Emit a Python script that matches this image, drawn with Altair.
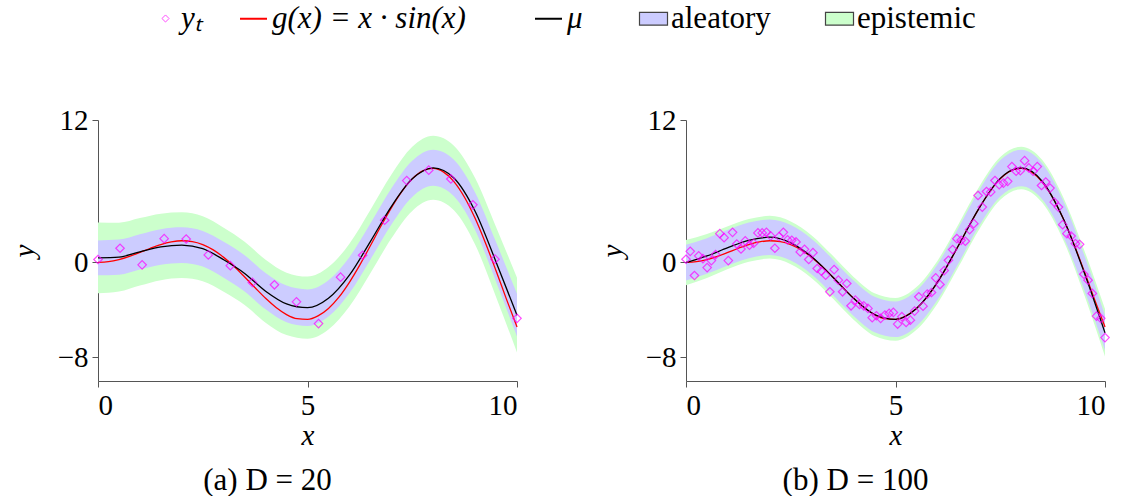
import altair as alt
import pandas as pd

# ---------------- data ----------------
# (a) D = 20 observations
x_pts_a = [0.0, 0.526, 1.053, 1.579, 2.105, 2.632, 3.158, 3.684, 4.211, 4.737,
           5.263, 5.789, 6.316, 6.842, 7.368, 7.895, 8.421, 8.947, 9.474, 10.0]
y_pts_a = [0.24, 1.19, -0.21, 2.0, 1.97, 0.63, -0.28, -1.69, -1.89, -3.33,
           -5.16, -1.25, 0.60, 3.55, 6.89, 7.77, 7.03, 4.85, 0.27, -4.72]

# (b) D = 100 observations
x_pts_b = [0.0, 0.101, 0.202, 0.303, 0.404, 0.505, 0.606, 0.707, 0.808, 0.909,
           1.010, 1.111, 1.212, 1.313, 1.414, 1.515, 1.616, 1.717, 1.818, 1.919,
           2.020, 2.121, 2.222, 2.323, 2.424, 2.525, 2.626, 2.727, 2.828, 2.929,
           3.030, 3.131, 3.232, 3.333, 3.434, 3.535, 3.636, 3.737, 3.838, 3.939,
           4.040, 4.141, 4.242, 4.343, 4.444, 4.545, 4.646, 4.747, 4.848, 4.949,
           5.051, 5.152, 5.253, 5.354, 5.455, 5.556, 5.657, 5.758, 5.859, 5.960,
           6.061, 6.162, 6.263, 6.364, 6.465, 6.566, 6.667, 6.768, 6.869, 6.970,
           7.071, 7.172, 7.273, 7.374, 7.475, 7.576, 7.677, 7.778, 7.879, 7.980,
           8.081, 8.182, 8.283, 8.384, 8.485, 8.586, 8.687, 8.788, 8.889, 8.990,
           9.091, 9.192, 9.293, 9.394, 9.495, 9.596, 9.697, 9.798, 9.899, 10.0]
y_pts_b = [0.26, 0.93, -1.11, 0.55, 0.32, -0.44, 0.15, 0.66, 2.42, 2.08,
           0.15, 2.53, 1.55, 1.13, 1.81, 1.44, 1.61, 2.48, 2.48, 2.53,
           2.23, 1.19, 2.17, 2.53, 1.90, 1.86, 1.72, 0.88, 1.10, 0.24,
           0.82, -0.52, -0.75, -1.08, -2.48, -0.61, -1.50, -2.48, -1.78, -3.66,
           -3.18, -3.55, -3.66, -3.88, -4.66, -4.50, -4.72, -4.44, -4.30, -4.22,
           -5.20, -4.58, -5.06, -4.87, -4.11, -2.90, -3.69, -2.68, -2.54, -1.31,
           -1.87, -0.69, 0.18, 1.08, 2.00, 1.86, 1.78, 2.76, 3.26, 5.64,
           4.66, 5.97, 5.94, 6.90, 6.54, 6.68, 6.83, 8.07, 7.68, 7.73,
           8.57, 7.96, 7.68, 8.07, 6.48, 6.77, 6.26, 5.08, 4.66, 3.18,
           2.42, 2.22, 1.58, 1.52, -1.00, -1.50, -2.62, -4.53, -4.72, -6.34]

# true function g(x) = x sin(x)
x_true = [0.0, 0.25, 0.5, 0.75, 1.0, 1.25, 1.5, 1.75, 2.0, 2.25, 2.5, 2.75, 3.0, 3.25,
          3.5, 3.75, 4.0, 4.25, 4.5, 4.75, 5.0, 5.25, 5.5, 5.75, 6.0, 6.25, 6.5,
          6.75, 7.0, 7.25, 7.5, 7.75, 8.0, 8.25, 8.5, 8.75, 9.0, 9.25, 9.5, 9.75, 10.0]
g_true = [0.0, 0.06, 0.24, 0.51, 0.84, 1.19, 1.50, 1.72, 1.82, 1.75, 1.50, 1.05, 0.42,
          -0.35, -1.23, -2.14, -3.03, -3.80, -4.40, -4.75, -4.80, -4.51, -3.88, -2.93,
          -1.68, -0.21, 1.40, 3.04, 4.60, 5.97, 7.04, 7.71, 7.92, 7.61, 6.79, 5.47,
          3.71, 1.61, -0.71, -3.12, -5.44]

# predictive mean and band half-widths on a common grid
x_grid = [0.0, 0.5, 1.0, 1.5, 2.0, 2.5, 3.0, 3.5, 4.0, 4.5, 5.0,
          5.5, 6.0, 6.5, 7.0, 7.5, 8.0, 8.5, 9.0, 9.5, 10.0]
mu_a = [0.38, 0.44, 0.89, 1.30, 1.45, 1.15, 0.22, -0.93, -2.43, -3.50, -3.82,
        -3.03, -1.08, 1.75, 4.70, 7.04, 7.97, 7.09, 4.31, 0.04, -4.45]
alea_a = [1.47, 1.48, 1.49, 1.50, 1.50, 1.50, 1.51, 1.52, 1.53, 1.54, 1.54,
          1.53, 1.52, 1.52, 1.52, 1.52, 1.52, 1.54, 1.58, 1.67, 1.80]
total_a = [2.98, 2.90, 2.84, 2.80, 2.77, 2.74, 2.70, 2.67, 2.65, 2.63, 2.62,
           2.63, 2.65, 2.67, 2.69, 2.70, 2.70, 2.72, 2.80, 2.95, 3.15]

mu_b = [-0.02, 0.54, 1.24, 1.85, 2.12, 1.65, 0.47, -1.23, -3.03, -4.40, -4.80,
        -3.88, -1.68, 1.40, 4.60, 7.08, 7.96, 6.84, 3.71, -0.81, -5.94]
alea_b = [1.50, 1.50, 1.50, 1.50, 1.50, 1.50, 1.50, 1.50, 1.50, 1.50, 1.50,
          1.50, 1.50, 1.50, 1.50, 1.52, 1.54, 1.52, 1.50, 1.48, 1.46]
total_b = [1.90, 1.85, 1.80, 1.80, 1.80, 1.80, 1.80, 1.80, 1.80, 1.80, 1.80,
           1.80, 1.80, 1.80, 1.80, 1.80, 1.79, 1.80, 1.80, 1.88, 2.00]

x_ticks = [0, 5, 10]
y_ticks = [-8, 0, 12]

series_names = ["g(x) = x · sin(x)", "μ"]
series_colors = ["#ff0000", "#000000"]
band_names = ["aleatory", "epistemic"]
band_colors = ["#ccccff", "#ccffcc"]
obs_name = ["yₜ"]
obs_color = ["#ff00ff"]

FONT = "Liberation Serif"
FS = 29
LFS = 31
W, H = 419, 261
LEG_Y = -117


def panel(xp, yp, mu, alea, tot, caption):
    band_df = pd.DataFrame({
        "x": x_grid,
        "lo_e": [m - t for m, t in zip(mu, tot)],
        "hi_e": [m + t for m, t in zip(mu, tot)],
        "lo_a": [m - a for m, a in zip(mu, alea)],
        "hi_a": [m + a for m, a in zip(mu, alea)],
        "band_e": "epistemic",
        "band_a": "aleatory",
    })
    true_df = pd.DataFrame({"x": x_true, "y": g_true, "s": series_names[0]})
    mu_df = pd.DataFrame({"x": x_grid, "y": mu, "s": series_names[1]})
    pts_df = pd.DataFrame({"x": xp, "y": yp, "o": obs_name[0]})

    xenc = alt.X("x:Q", scale=alt.Scale(domain=[0, 10], nice=False),
                 axis=alt.Axis(values=x_ticks, title="x"))
    yscale = alt.Scale(domain=[-10, 12], nice=False, zero=False)
    yaxis = alt.Axis(values=y_ticks, title="y",
                     labelExpr="replace(datum.label, '-', '−')")

    fill_scale = alt.Scale(domain=band_names, range=band_colors)
    fill_legend = alt.Legend(orient="none", legendX=540, legendY=LEG_Y,
                             direction="horizontal", title=None,
                             symbolType="M-1,-0.46H1V0.46H-1Z", symbolSize=784,
                             symbolStrokeColor="#444444", symbolStrokeWidth=1.2,
                             labelFont=FONT, labelFontSize=LFS, labelOffset=2,
                             labelLimit=0, columnPadding=52, symbolOpacity=1)
    stroke_scale = alt.Scale(domain=series_names, range=series_colors)
    stroke_legend = alt.Legend(orient="none", legendX=140, legendY=LEG_Y,
                               direction="horizontal", title=None,
                               symbolType="stroke", symbolSize=729,
                               symbolStrokeWidth=2,
                               labelFont=FONT, labelFontSize=LFS,
                               labelFontStyle="italic", labelOffset=3,
                               labelLimit=0, columnPadding=65)
    color_scale = alt.Scale(domain=obs_name, range=obs_color)
    color_legend = alt.Legend(orient="none", legendX=52, legendY=LEG_Y,
                              title=None, symbolType="diamond", symbolSize=50,
                              symbolStrokeWidth=1, labelLimit=0,
                              labelFont=FONT, labelFontSize=LFS,
                              labelFontStyle="italic", labelOffset=0)

    epi = alt.Chart(band_df).mark_area(interpolate="monotone", opacity=1).encode(
        x=xenc,
        y=alt.Y("lo_e:Q", scale=yscale, axis=yaxis),
        y2="hi_e:Q",
        fill=alt.Fill("band_e:N", scale=fill_scale, legend=fill_legend),
    )
    ale = alt.Chart(band_df).mark_area(interpolate="monotone", opacity=1).encode(
        x=xenc,
        y=alt.Y("lo_a:Q", scale=yscale, axis=yaxis),
        y2="hi_a:Q",
        fill=alt.Fill("band_a:N", scale=fill_scale, legend=fill_legend),
    )
    red = alt.Chart(true_df).mark_line(interpolate="monotone", strokeWidth=1.3).encode(
        x=xenc,
        y=alt.Y("y:Q", scale=yscale, axis=yaxis),
        stroke=alt.Stroke("s:N", scale=stroke_scale, legend=stroke_legend),
    )
    blk = alt.Chart(mu_df).mark_line(interpolate="monotone", strokeWidth=1.3).encode(
        x=xenc,
        y=alt.Y("y:Q", scale=yscale, axis=yaxis),
        stroke=alt.Stroke("s:N", scale=stroke_scale, legend=stroke_legend),
    )
    pts = alt.Chart(pts_df).mark_point(shape="diamond", filled=False, size=72,
                                       strokeWidth=1.2).encode(
        x=xenc,
        y=alt.Y("y:Q", scale=yscale, axis=yaxis),
        color=alt.Color("o:N", scale=color_scale, legend=color_legend),
    )
    return alt.layer(epi, ale, red, blk, pts).properties(
        width=W, height=H,
        title=alt.TitleParams(caption, orient="bottom", font=FONT, fontSize=LFS,
                              fontWeight="normal", offset=16, anchor="middle",
                              dx=-40),
    )


left = panel(x_pts_a, y_pts_a, mu_a, alea_a, total_a, "(a) D = 20")
right = panel(x_pts_b, y_pts_b, mu_b, alea_b, total_b, "(b) D = 100")

chart = alt.hconcat(left, right, spacing=74).resolve_scale(
    fill="shared", stroke="shared", color="shared"
).resolve_legend(
    fill="shared", stroke="shared", color="shared"
).properties(
    padding={"left": 10, "top": 3, "right": 0, "bottom": 0}
).configure_view(stroke=None).configure_axis(
    grid=False, domainColor="#555555", tickColor="#555555", tickSize=6,
    labelFont=FONT, labelFontSize=FS, labelColor="#000000",
    titleFont=FONT, titleFontSize=FS, titleFontStyle="italic",
    titleFontWeight="normal", titleColor="#000000", labelPadding=4,
).configure_axisX(titlePadding=1).configure_axisY(titlePadding=18, titleAngle=-90)

chart.save("out.html", embed_options={"renderer": "svg", "actions": False})
